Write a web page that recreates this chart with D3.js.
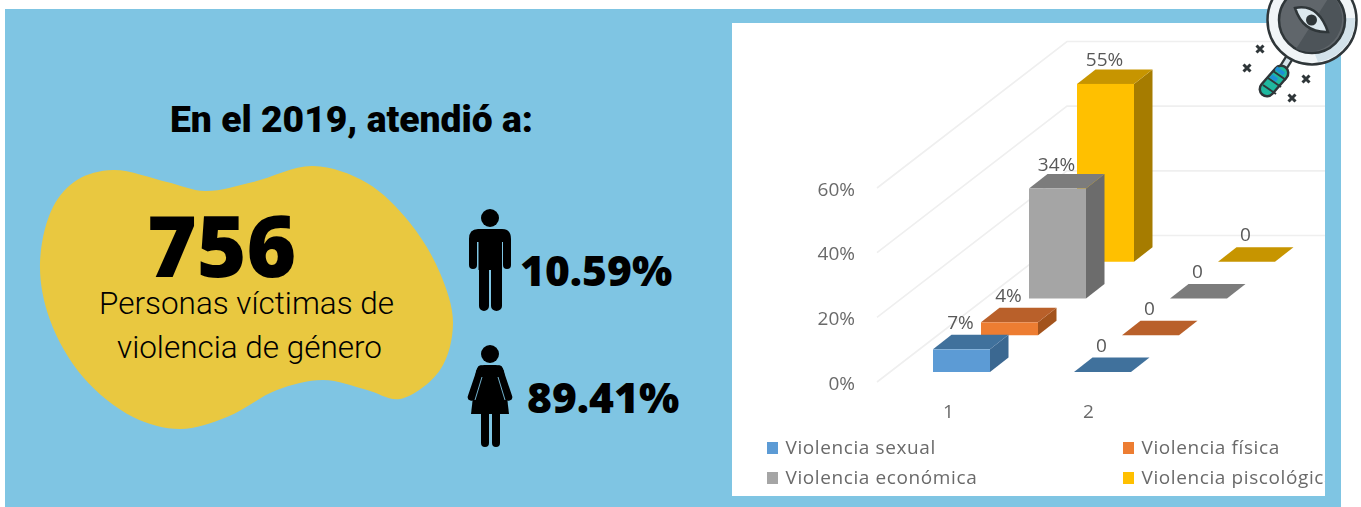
<!DOCTYPE html>
<html>
<head>
<meta charset="utf-8">
<script src="https://cdn.jsdelivr.net/npm/d3@7"></script>
<style>
  html, body { margin: 0; padding: 0; background: #fff; }
  svg { display: block; }
</style>
</head>
<body>
<script>
var svgWidth = 1361;
var svgHeight = 507;

// chart data
var categories = ["1", "2"];
var seriesNames = ["Violencia sexual", "Violencia física", "Violencia económica", "Violencia piscológica"];
var seriesValues = [
  [7, 0],
  [4, 0],
  [34, 0],
  [55, 0]
];
var seriesLabels = [
  ["7%", "0"],
  ["4%", "0"],
  ["34%", "0"],
  ["55%", "0"]
];
var yTicks = [0, 20, 40, 60];

// front, top and side colours of each series
var frontColors = ["#5b9bd5", "#ed7d31", "#a5a5a5", "#ffc000"];
var topColors = ["#41719c", "#b9602a", "#7c7c7c", "#c79500"];
var sideColors = ["#3b6791", "#a3531c", "#6c6c6c", "#a67c00"];

var svg = d3.select("body").append("svg")
  .attr("width", svgWidth)
  .attr("height", svgHeight);

var defs = svg.append("defs");
defs.append("filter").attr("id", "soft")
  .append("feGaussianBlur").attr("stdDeviation", 0.5);
defs.append("clipPath").attr("id", "panelClip")
  .append("rect").attr("x", 732).attr("y", 23).attr("width", 593).attr("height", 473);

// backgrounds
svg.append("rect").attr("x", 5).attr("y", 9).attr("width", 1336).attr("height", 498).attr("fill", "#7fc5e3");
svg.append("rect").attr("x", 732).attr("y", 23).attr("width", 593).attr("height", 473).attr("fill", "#fff");

// left side
var blobPoints = [[113, 170], [167, 182], [205, 191], [253, 182], [313, 166], [367, 183], [410, 223], [440, 273],
  [453, 323], [440, 370], [400, 399], [367, 390], [323, 380], [277, 390], [227, 417], [180, 429], [133, 417],
  [83, 377], [50, 320], [40, 263], [53, 207], [77, 180]];

svg.append("path")
  .attr("d", d3.line().curve(d3.curveCatmullRomClosed.alpha(0.5))(blobPoints))
  .attr("fill", "#e9c840");

svg.append("text").attr("x", 170).attr("y", 132)
  .attr("font-family", "Roboto").attr("font-weight", 900).attr("font-size", 37)
  .attr("textLength", 363).attr("lengthAdjust", "spacingAndGlyphs")
  .text("En el 2019, atendió a:");

svg.append("text").attr("x", 147).attr("y", 277)
  .attr("font-family", "Open Sans").attr("font-weight", 800).attr("font-size", 85)
  .text("756");

var subLines = [["Personas víctimas de", 99, 314, 295], ["violencia de género", 117, 358, 265]];
subLines.forEach(function(l) {
  svg.append("text").attr("x", l[1]).attr("y", l[2])
    .attr("font-family", "Roboto").attr("font-weight", 300).attr("font-size", 32)
    .attr("textLength", l[3]).attr("lengthAdjust", "spacingAndGlyphs")
    .text(l[0]);
});

svg.append("text").attr("x", 520).attr("y", 286)
  .attr("font-family", "Open Sans").attr("font-weight", 800).attr("font-size", 42.5).text("10.59%");
svg.append("text").attr("x", 527).attr("y", 413)
  .attr("font-family", "Open Sans").attr("font-weight", 800).attr("font-size", 42.5).text("89.41%");

// man
var man = svg.append("g");
man.append("circle").attr("cx", 490).attr("cy", 218).attr("r", 9);
man.append("path").attr("d", "M478 229H502Q511 229 511 239V265A4 4 0 0 1 503 265V242H477V265A4 4 0 0 1 469 265V239Q469 229 478 229Z");
man.append("rect").attr("x", 478.5).attr("y", 240).attr("width", 23.5).attr("height", 30);
man.append("path").attr("d", "M479 268H489V306A5 5 0 0 1 479 306ZM491 268H502V306A5.5 5 0 0 1 491 306Z");

// woman
var woman = svg.append("g");
woman.append("circle").attr("cx", 490).attr("cy", 354).attr("r", 9);
woman.append("path").attr("d", "M484 365H496Q502 365 504 371L509 414H471L476 371Q478 365 484 365Z");
woman.append("path").attr("d", "M481 369L471.5 397M499 369L508.5 397")
  .attr("stroke", "#000").attr("stroke-width", 7.5).attr("stroke-linecap", "round").attr("fill", "none");
woman.append("path").attr("d", "M482 377L475 400M498 377L505 400").attr("stroke", "#7fc5e3").attr("stroke-width", 0.9);
woman.append("path").attr("d", "M481 413H489V443A4 4 0 0 1 481 443ZM492 413H500V443A4 4 0 0 1 492 443Z");

// 3D chart
var y = d3.scaleLinear().domain([0, 60]).range([382, 188]);
var catX = d3.scalePoint().domain(categories).range([933, 1074]);
var catLabelX = d3.scalePoint().domain(categories).range([948, 1088]);
var depthX = d3.scaleLinear().domain([0, 4]).range([0, 192]);
var depthY = d3.scaleLinear().domain([0, 4]).range([0, -147]);

var barWidth = 57;
var barDepthX = 18.5;
var barDepthY = -14.5;
var floorLift = 10;

var chart = svg.append("g")
  .attr("clip-path", "url(#panelClip)")
  .append("g")
  .attr("filter", "url(#soft)");

// wall grid lines
var wallLeft = 877;
var wallRun = 190;
yTicks.forEach(function(t) {
  var backX = wallLeft + wallRun;
  var backY = y(t) + depthY(4) + 0.5;
  chart.append("path")
    .attr("d", d3.line()([[wallLeft, y(t)], [backX, backY], [1325, backY]]))
    .attr("fill", "none")
    .attr("stroke", "#efefef")
    .attr("stroke-width", 1.6);
});

// back series first so the front ones cover them
d3.range(seriesNames.length - 1, -1, -1).forEach(function(s) {
  var group = chart.append("g").attr("class", "series");
  categories.forEach(function(c, i) {
    var x0 = catX(c) + depthX(s);
    var base = y(0) - floorLift + depthY(s);
    var h = y(0) - y(seriesValues[s][i]);
    var top = base - h;
    var line = d3.line();
    group.append("path")
      .attr("d", line([[x0 + barWidth, base], [x0 + barWidth + barDepthX, base + barDepthY],
        [x0 + barWidth + barDepthX, top + barDepthY], [x0 + barWidth, top]]) + "Z")
      .attr("fill", sideColors[s]);
    group.append("path")
      .attr("d", line([[x0, top], [x0 + barWidth, top], [x0 + barWidth + barDepthX, top + barDepthY],
        [x0 + barDepthX, top + barDepthY]]) + "Z")
      .attr("fill", topColors[s]);
    group.append("rect")
      .attr("x", x0).attr("y", top)
      .attr("width", barWidth).attr("height", h)
      .attr("fill", frontColors[s]);
  });
});

// data labels
seriesNames.forEach(function(name, s) {
  categories.forEach(function(c, i) {
    var v = seriesValues[s][i];
    var top = y(0) - floorLift + depthY(s) - (y(0) - y(v)) + barDepthY;
    chart.append("text")
      .attr("x", catX(c) + depthX(s) + barWidth / 2 - 1)
      .attr("y", top - (v > 30 ? 3 : 6))
      .attr("text-anchor", "middle")
      .attr("font-family", "Open Sans")
      .attr("font-size", 19)
      .attr("fill", "#595959")
      .text(seriesLabels[s][i]);
  });
});

// axes
var yAxis = chart.append("g")
  .attr("transform", "translate(858, 1)")
  .call(d3.axisLeft(y).tickValues(yTicks).tickSize(0).tickFormat(function(d) { return d + "%"; }));
yAxis.select(".domain").remove();
yAxis.selectAll("text")
  .attr("font-family", "Open Sans").attr("font-size", 19).attr("fill", "#6a6a6a");

var xAxis = chart.append("g")
  .attr("transform", "translate(0, 401)")
  .call(d3.axisBottom(catLabelX).tickSize(0));
xAxis.select(".domain").remove();
xAxis.selectAll("text")
  .attr("font-family", "Open Sans").attr("font-size", 19).attr("fill", "#6a6a6a");

// legend
var legendX = d3.scalePoint().domain([0, 1]).range([767, 1123]);
var legendY = d3.scalePoint().domain([0, 1]).range([454, 484]);
seriesNames.forEach(function(name, s) {
  var lx = legendX(s % 2);
  var ly = legendY(Math.floor(s / 2));
  chart.append("rect").attr("x", lx).attr("y", ly - 12).attr("width", 11).attr("height", 12).attr("fill", frontColors[s]);
  chart.append("text")
    .attr("x", lx + 18.5).attr("y", ly)
    .attr("font-family", "Open Sans")
    .attr("font-size", 19)
    .attr("letter-spacing", 0.6)
    .attr("fill", "#6a6a6a")
    .text(name);
});

// magnifying glass
var glass = svg.append("g");
var ink = "#2f3639";
glass.append("path").attr("d", "M1293 52L1283 68").attr("stroke", ink).attr("stroke-width", 9).attr("stroke-linecap", "round");
glass.append("path").attr("d", "M1293 52L1283 68").attr("stroke", "#d4e2e9").attr("stroke-width", 4.5);
glass.append("path").attr("d", "M1281 73L1267 89").attr("stroke", ink).attr("stroke-width", 17).attr("stroke-linecap", "round");
glass.append("path").attr("d", "M1281 73L1267 89").attr("stroke", "#1fb89f").attr("stroke-width", 12).attr("stroke-linecap", "round");
glass.append("path").attr("d", "M1273 71L1286 80M1268 78L1281 87M1263 85L1276 94").attr("stroke", ink).attr("stroke-width", 2);
glass.append("path").attr("d", "M1276 68L1284 74M1271 76L1277 80").attr("stroke", "#1e8fd6").attr("stroke-width", 4);
glass.append("circle").attr("cx", 1312).attr("cy", 20).attr("r", 44.5).attr("fill", "#f1f5f7").attr("stroke", ink).attr("stroke-width", 2.5);
glass.append("path").attr("d", "M1355 18A43 43 0 0 1 1318 62L1314 52A33 33 0 0 0 1344 18Z").attr("fill", "#d3e2ea");
glass.append("circle").attr("cx", 1312).attr("cy", 20).attr("r", 33).attr("fill", "#60666b").attr("stroke", ink).attr("stroke-width", 2.5);
glass.append("path").attr("d", "M1331 -6A33 33 0 0 1 1296 49Z").attr("fill", "#4d5459");
glass.append("path").attr("d", "M1295 8Q1318 3 1328 32Q1303 33 1295 8Z").attr("fill", "#dce8ee").attr("stroke", ink).attr("stroke-width", 2.5);
glass.append("circle").attr("cx", 1311.5).attr("cy", 20).attr("r", 5.5).attr("fill", ink);
[[1260, 49], [1247, 68], [1306, 79], [1292, 98]].forEach(function(p) {
  glass.append("path")
    .attr("d", "M" + (p[0] - 3.5) + " " + (p[1] - 3.5) + "L" + (p[0] + 3.5) + " " + (p[1] + 3.5) +
      "M" + (p[0] + 3.5) + " " + (p[1] - 3.5) + "L" + (p[0] - 3.5) + " " + (p[1] + 3.5))
    .attr("stroke", ink).attr("stroke-width", 3);
});
</script>
</body>
</html>
